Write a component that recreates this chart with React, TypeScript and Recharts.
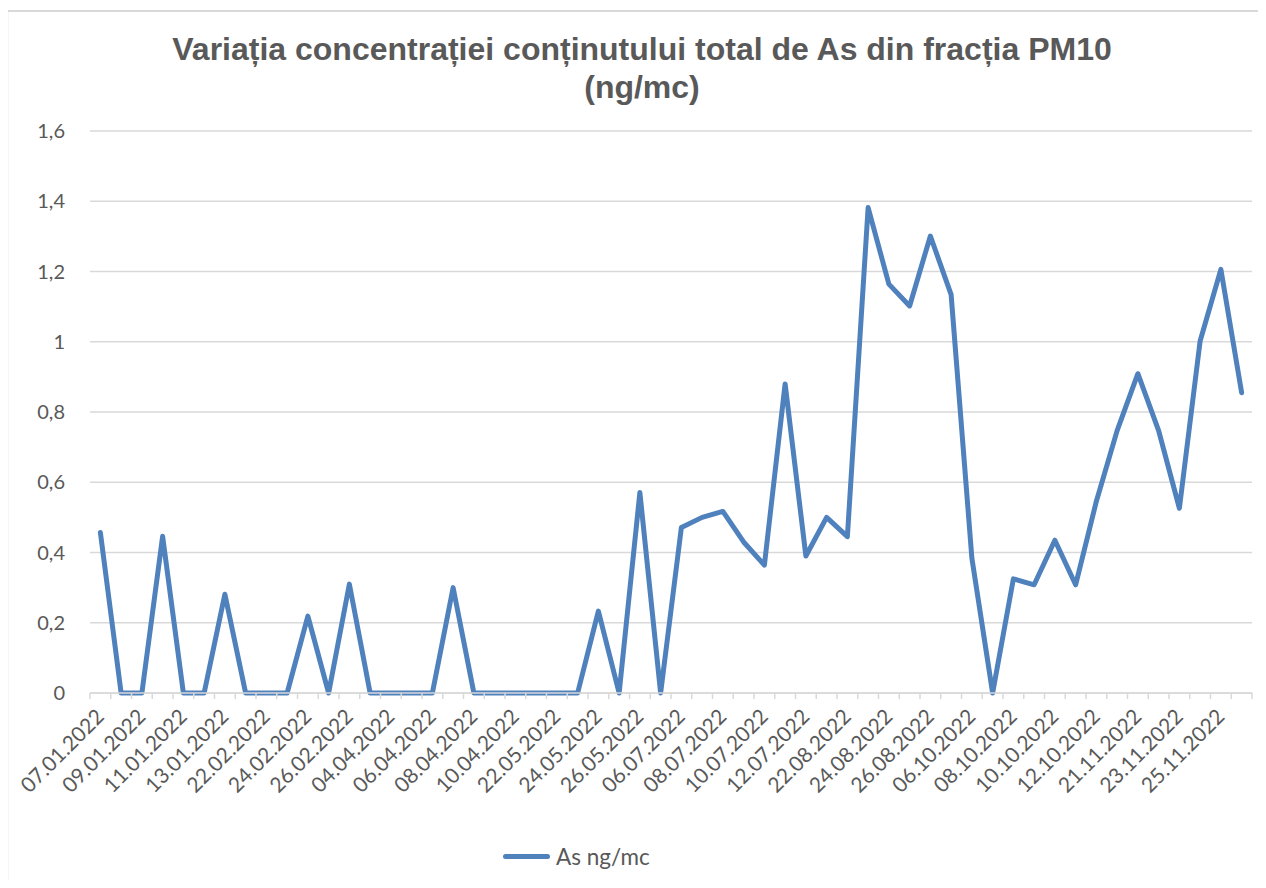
import { CartesianGrid, Line, LineChart, XAxis, YAxis } from "recharts";

const dates = [
  "07.01.2022", "08.01.2022", "09.01.2022", "10.01.2022", "11.01.2022", "12.01.2022", "13.01.2022", "14.01.2022",
  "22.02.2022", "23.02.2022", "24.02.2022", "25.02.2022", "26.02.2022", "27.02.2022",
  "04.04.2022", "05.04.2022", "06.04.2022", "07.04.2022", "08.04.2022", "09.04.2022", "10.04.2022", "11.04.2022",
  "22.05.2022", "23.05.2022", "24.05.2022", "25.05.2022", "26.05.2022", "27.05.2022",
  "06.07.2022", "07.07.2022", "08.07.2022", "09.07.2022", "10.07.2022", "11.07.2022", "12.07.2022", "13.07.2022",
  "22.08.2022", "23.08.2022", "24.08.2022", "25.08.2022", "26.08.2022", "27.08.2022",
  "06.10.2022", "07.10.2022", "08.10.2022", "09.10.2022", "10.10.2022", "11.10.2022", "12.10.2022", "13.10.2022",
  "21.11.2022", "22.11.2022", "23.11.2022", "24.11.2022", "25.11.2022", "26.11.2022",
];

const asValues = [
  0.457, 0, 0, 0.446, 0, 0, 0.281, 0,
  0, 0, 0.219, 0, 0.31, 0,
  0, 0, 0, 0.3, 0, 0, 0, 0,
  0, 0, 0.233, 0, 0.571, 0,
  0.471, 0.5, 0.517, 0.43, 0.364, 0.88, 0.39, 0.5,
  0.445, 1.382, 1.164, 1.102, 1.301, 1.134,
  0.384, 0, 0.325, 0.308, 0.435, 0.308, 0.546, 0.747,
  0.909, 0.747, 0.526, 1.002, 1.206, 0.855,
];

const yTicks = [0, 0.2, 0.4, 0.6, 0.8, 1, 1.2, 1.4, 1.6];

const chartTitle = ["Variația concentrației conținutului total de As din fracția PM10", "(ng/mc)"];
const seriesName = "As ng/mc";

const data = dates.map((d, i) => ({ date: d, value: asValues[i] }));

const W = 1266;
const H = 888;
const PLOT_LEFT = 90;
const PLOT_RIGHT = 1252;
const PLOT_TOP = 131;
const PLOT_BOTTOM = 693;
const X_AXIS_H = 30;
const BAND = (PLOT_RIGHT - PLOT_LEFT) / dates.length;
const TEXT = "#595959";
const GRID = "#d9d9d9";
const BLUE = "#4f81bd";

function XTick(props: any) {
  const { x, y, payload } = props;
  const i = payload.index;
  const left = x - BAND / 2;
  const ax = x + 5;
  const ay = y + 25;
  return (
    <g>
      <line x1={left} x2={left} y1={y} y2={y + 6} stroke={GRID} strokeWidth={1.5} />
      {i === dates.length - 1 && (
        <line x1={x + BAND / 2} x2={x + BAND / 2} y1={y} y2={y + 6} stroke={GRID} strokeWidth={1.5} />
      )}
      {i % 2 === 0 && (
        <text
          x={ax}
          y={ay}
          textAnchor="end"
          fill={TEXT}
          fontSize={21}
          fontFamily="Lato"
          transform={`rotate(-45 ${ax} ${ay})`}
        >
          {payload.value}
        </text>
      )}
    </g>
  );
}

// chart frame, drawn in the svg so it sits exactly on the page pixels
function Frame() {
  return (
    <g>
      <line x1={7} x2={7} y1={10} y2={H} stroke={GRID} strokeWidth={2.5} />
      <line x1={6} x2={W} y1={11} y2={11} stroke={GRID} strokeWidth={2} />
    </g>
  );
}

export default function App() {
  return (
    <div style={{ position: "relative", width: W, height: H, margin: -8, background: "#fff", overflow: "hidden" }}>
      <div
        style={{
          position: "absolute",
          left: 0,
          top: 30,
          width: W,
          paddingLeft: 18,
          boxSizing: "border-box",
          textAlign: "center",
          fontFamily: "Liberation Sans",
          fontWeight: "bold",
          fontSize: 32,
          lineHeight: "38px",
          color: TEXT,
        }}
      >
        {chartTitle.map((t) => (
          <div key={t}>{t}</div>
        ))}
      </div>
      <LineChart
        width={W}
        height={H}
        data={data}
        margin={{ top: PLOT_TOP, right: W - PLOT_RIGHT, bottom: H - PLOT_BOTTOM - X_AXIS_H, left: 0 }}
        style={{ position: "absolute", left: 0, top: 0 }}
      >
        <Frame />
        <CartesianGrid vertical={false} stroke={GRID} strokeWidth={1.5} />
        <XAxis
          dataKey="date"
          scale="band"
          interval={0}
          height={X_AXIS_H}
          tickLine={false}
          tickSize={0}
          tickMargin={0}
          axisLine={{ stroke: GRID, strokeWidth: 1.5 }}
          tick={<XTick />}
        />
        <YAxis
          width={PLOT_LEFT}
          domain={[0, 1.6]}
          ticks={yTicks}
          axisLine={false}
          tickLine={false}
          tickSize={0}
          tickMargin={25}
          tick={{ fill: TEXT, fontSize: 20, fontFamily: "Lato" }}
          tickFormatter={(v: number) => String(v).replace(".", ",")}
        />
        <Line
          dataKey="value"
          name={seriesName}
          stroke={BLUE}
          strokeWidth={5}
          strokeLinejoin="round"
          strokeLinecap="round"
          dot={false}
          isAnimationActive={false}
        />
      </LineChart>
      <div
        style={{
          position: "absolute",
          left: 503,
          top: 843,
          display: "flex",
          alignItems: "center",
          fontFamily: "Lato",
          fontSize: 22.5,
          color: TEXT,
        }}
      >
        <span style={{ display: "inline-block", width: 47, height: 5, background: BLUE, borderRadius: 2.5, marginRight: 6 }} />
        {seriesName}
      </div>
    </div>
  );
}
